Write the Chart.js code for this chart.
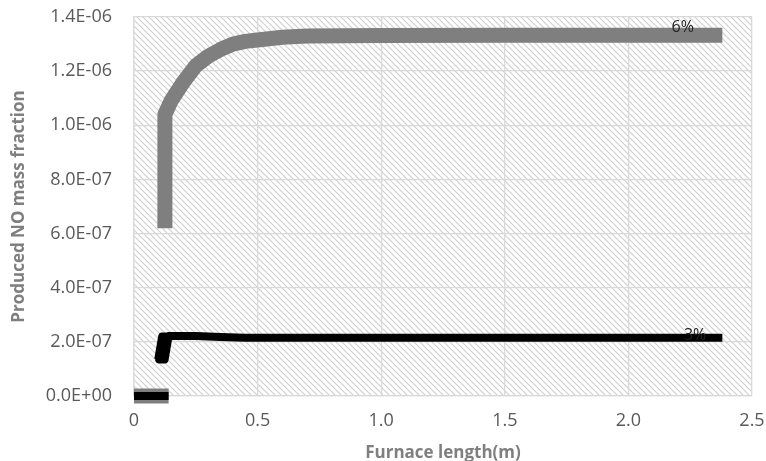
<!DOCTYPE html>
<html>
<head>
<meta charset="utf-8">
<script src="https://cdn.jsdelivr.net/npm/chart.js@4.4.0/dist/chart.umd.min.js"></script>
<style>
  html, body { margin: 0; padding: 0; background: #fff; }
  #wrap { width: 766px; height: 461px; }
</style>
</head>
<body>
<div id="wrap"><canvas id="chart"></canvas></div>
<script>
// series values, y in units of 1E-07 (null breaks the line)
const seriesNames = ['3%', '6%'];
const x3 = [0, 0.14, 0.14,
  0.098, 0.114, 0.102, 0.118, 0.106, 0.122, 0.11, 0.126, 0.114, 0.13, 0.118, 0.134, 0.124, 0.14,
  0.25, 0.35, 0.45, 0.7, 1.0, 1.5, 2.0, 2.38];
const y3 = [0, 0, null,
  1.35, 2.2, 1.35, 2.2, 1.35, 2.2, 1.35, 2.2, 1.35, 2.2, 1.35, 2.2, 1.35, 2.22,
  2.22, 2.18, 2.15, 2.15, 2.15, 2.15, 2.15, 2.15];
const x6 = [0, 0.14, 0.14, 0.125, 0.125, 0.15, 0.2, 0.25, 0.3, 0.35, 0.4, 0.45, 0.5, 0.6, 0.7, 1.0, 1.5, 2.0, 2.38];
const y6 = [0, 0, null, 6.2, 10.4, 10.9, 11.6, 12.2, 12.55, 12.8, 13.0, 13.1, 13.15, 13.25, 13.3, 13.32, 13.33, 13.33, 13.33];
// where the series names are written on the plot
const labelX = [2.27, 2.22];
const labelY = [2.25, 13.6];

const xTitle = 'Furnace length(m)';
const yTitle = 'Produced NO mass fraction';

const toPoints = (xs, ys) => xs.map((x, i) => ({ x, y: ys[i] == null ? null : ys[i] * 1e-7 }));

function fmtExp(v) {
  const [m, e] = v.toExponential(1).split('e');
  const n = Math.abs(parseInt(e, 10));
  return m + 'E' + (e[0] === '-' ? '-' : '+') + String(n).padStart(2, '0');
}

function hatch() {
  const c = document.createElement('canvas');
  c.width = 6;
  c.height = 6;
  const g = c.getContext('2d');
  g.strokeStyle = '#d0d0d0';
  g.lineWidth = 1.2;
  g.beginPath();
  g.moveTo(-1, -1); g.lineTo(7, 7);
  g.moveTo(-1, 5); g.lineTo(1, 7);
  g.moveTo(5, -1); g.lineTo(7, 1);
  g.stroke();
  return c;
}

const hatchBg = {
  id: 'hatchBg',
  beforeDraw(chart) {
    const { ctx, chartArea: a } = chart;
    ctx.save();
    ctx.fillStyle = ctx.createPattern(hatch(), 'repeat');
    ctx.fillRect(a.left, a.top, a.right - a.left, a.bottom - a.top);
    ctx.restore();
  },
};

const seriesLabels = {
  id: 'seriesLabels',
  afterDatasetsDraw(chart) {
    const { ctx, scales } = chart;
    ctx.save();
    ctx.font = '16px "Open Sans"';
    ctx.fillStyle = '#222';
    ctx.textAlign = 'center';
    ctx.textBaseline = 'middle';
    seriesNames.forEach((name, i) => {
      ctx.fillText(name, scales.x.getPixelForValue(labelX[i]), scales.y.getPixelForValue(labelY[i] * 1e-7));
    });
    ctx.restore();
  },
};

const tickFont = { family: 'Open Sans', size: 18 };
const titleFont = { family: 'Open Sans', size: 17, weight: 'bold' };

new Chart(document.getElementById('chart'), {
  type: 'line',
  data: {
    datasets: [
      {
        label: seriesNames[0],
        data: toPoints(x3, y3),
        borderColor: '#000',
        borderWidth: 8,
        borderJoinStyle: 'round',
        pointRadius: 0,
        spanGaps: false,
        tension: 0,
        clip: false,
      },
      {
        label: seriesNames[1],
        data: toPoints(x6, y6),
        borderColor: '#7f7f7f',
        borderWidth: 15,
        borderJoinStyle: 'round',
        pointRadius: 0,
        spanGaps: false,
        tension: 0,
        clip: false,
      },
    ],
  },
  options: {
    responsive: true,
    maintainAspectRatio: false,
    animation: false,
    layout: { padding: { left: 7, right: 14, top: 17, bottom: 0 } },
    plugins: { legend: { display: false }, tooltip: { enabled: false } },
    scales: {
      x: {
        type: 'linear',
        min: 0,
        max: 2.5,
        afterFit(scale) {
          scale.height = 65;
          scale.paddingLeft = 0;
          scale.paddingRight = 0;
        },
        ticks: { stepSize: 0.5, padding: 14, color: '#595959', font: tickFont },
        grid: { color: '#d9d9d9', lineWidth: 1.3, drawTicks: false },
        border: { color: '#d9d9d9', width: 1.3 },
        title: { display: true, text: xTitle, color: '#7f7f7f', font: titleFont, padding: { top: 10, bottom: -2 } },
      },
      y: {
        min: 0,
        max: 1.4e-6,
        afterFit(scale) {
          scale.width = 127;
          scale.paddingTop = 0;
          scale.paddingBottom = 0;
        },
        ticks: { stepSize: 2e-7, padding: 22, color: '#595959', font: tickFont, callback: v => fmtExp(v) },
        grid: { color: '#d9d9d9', lineWidth: 1.3, drawTicks: false },
        border: { color: '#d9d9d9', width: 1.3 },
        title: { display: true, text: yTitle, color: '#7f7f7f', font: titleFont, padding: { top: 2, bottom: 0 } },
      },
    },
  },
  plugins: [hatchBg, seriesLabels],
});
</script>
</body>
</html>
